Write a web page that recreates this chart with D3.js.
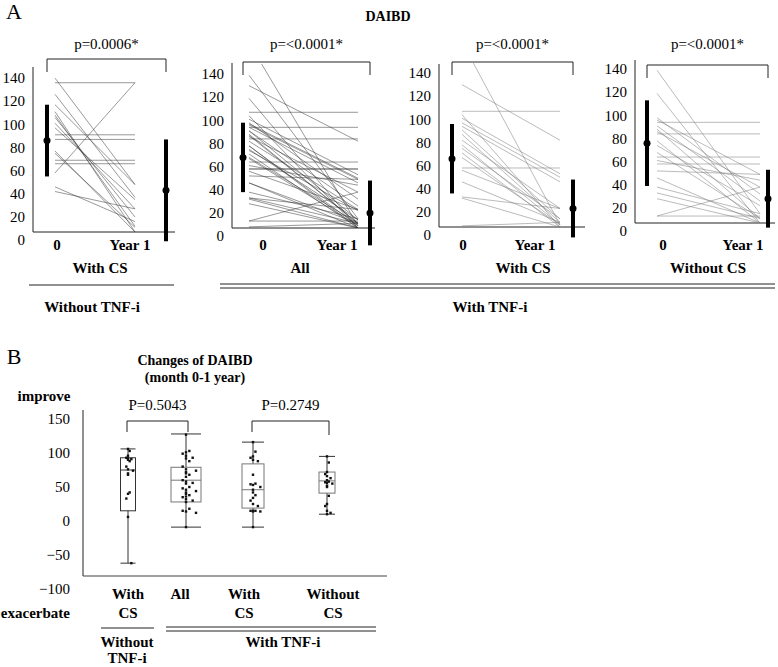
<!DOCTYPE html>
<html><head><meta charset="utf-8">
<script src="https://cdn.jsdelivr.net/npm/d3@7/dist/d3.min.js"></script>
<style>body{margin:0;background:#fff}svg{display:block;font-family:"Liberation Serif","Times New Roman",serif}</style>
</head><body><svg id="c" width="778" height="667"></svg>
<script>
// ---------- Panel A data ----------
const aTicks = [0, 20, 40, 60, 80, 100, 120, 140];
const aTimeLabels = ["0", "Year 1"];
const aPvals = ["p=0.0006*", "p=<0.0001*", "p=<0.0001*", "p=<0.0001*"];
const aGroups = ["With CS", "All", "With   CS", "Without   CS"];
// Without TNF-i, with CS : month 0 / year 1
const noTnfCs0 = [129, 51, 133, 119, 84, 80, 62, 104, 101, 99, 94, 70, 68, 39, 35, 110, 90, 59];
const noTnfCs1 = [129, 129, 41, 30, 84, 80, 62, 0, 5, 13, 20, 0, 4, 9, 20, 41, 28, 59];
// With TNF-i, with CS
const tnfCs0 = [160, 123, 100, 94, 90, 87, 84, 80, 75, 71, 64, 60, 51, 49, 39, 26, 25, 1, 97, 68];
const tnfCs1 = [2, 75, 100, 46, 43, 39, 7, 4, 16, 2, 0, 2, 51, 16, 4, 16, 0, 4, 0, 7];
// With TNF-i, without CS
const tnfNoCs0 = [132, 112, 87, 91, 89, 84, 77, 81, 79, 71, 67, 61, 57, 51, 54, 45, 39, 31, 26, 21, 6, 6];
const tnfNoCs1 = [8, 0, 87, 25, 42, 19, 77, 4, 31, 0, 15, 4, 57, 51, 37, 42, 0, 8, 4, 0, 31, 6];
// With TNF-i, all = with CS + without CS
const tnfAll0 = tnfCs0.concat(tnfNoCs0);
const tnfAll1 = tnfCs1.concat(tnfNoCs1);
const aMeans = [[79, 36], [61, 13], [59, 16], [69, 21]];
const aSD = [[31, 44], [30, 28], [30, 25], [37, 25]];

// ---------- Panel B data ----------
const bTicks = [150, 100, 50, 0, -50, -100];
const bCats = [["With", "CS"], ["All"], ["With", "CS"], ["Without", "CS"]];
const bPvals = ["P=0.5043", "P=0.2749"];
const bMin = [-62, -9, -9, 10];
const bQ1 = [15, 28, 19, 41];
const bMed = [75, 60, 46, 59];
const bQ3 = [93, 79, 84, 72];
const bMax = [106, 128, 116, 95];
const bDots1 = [106, 103, 96, 93, 92, 91, 90, 88, 80, 76, 74, 70, 68, 42, 40, 33, 6, -62];
const bDots2 = [127, 103, 101, 99, 96, 93, 92, 88, 80, 76, 74, 72, 70, 68, 65, 60, 58, 56, 55, 50, 48, 46, 44, 42, 40, 38, 36, 35, 32, 30, 28, 18, 15, 14, 12, -9];
const bDots3 = [116, 102, 95, 93, 90, 88, 68, 55, 54, 53, 50, 46, 42, 38, 34, 30, 25, 22, 15, 15, 15, 14, 14, -9];
const bDots4 = [95, 86, 72, 69, 66, 63, 60, 58, 57, 56, 55, 52, 50, 37, 25, 22, 15, 12, 10];

// ---------- layout ----------
const svg = d3.select("#c");
const SERIF = "'Liberation Serif','Times New Roman',serif";
function txt(x, y, s, o = {}) {
  return svg.append("text").attr("x", x).attr("y", y).text(s)
    .attr("font-size", o.size || 15).attr("font-weight", o.bold ? "bold" : "normal")
    .attr("text-anchor", o.anchor || "middle").attr("dominant-baseline", "central")
    .attr("fill", "#000");
}
function hline(x1, x2, y, w = 1, c = "#222") {
  svg.append("line").attr("x1", x1).attr("x2", x2).attr("y1", y).attr("y2", y)
    .attr("stroke", c).attr("stroke-width", w);
}

txt(14, 11, "A", { size: 22, anchor: "middle" });
txt(388, 16, "DAIBD", { size: 14, bold: true });

const layA = [
  { ax: 33, axisY: 232, top: 67, xEnd: 175, x0: 55, x1: 135, bL: 47, bR: 166, brTop: 59, brBot: 72, lab0: 57, labY: 130, grp: 100, d0: noTnfCs0, d1: noTnfCs1, col: "#333", op: 0.5 },
  { ax: 232, axisY: 228, top: 63, xEnd: 375, x0: 249, x1: 358, bL: 243, bR: 370, brTop: 62, brBot: 75, lab0: 263, labY: 337, grp: 300, d0: tnfAll0, d1: tnfAll1, col: "#333", op: 0.5 },
  { ax: 439, axisY: 227, top: 64, xEnd: 585, x0: 462, x1: 560, bL: 452, bR: 573, brTop: 62, brBot: 75, lab0: 463, labY: 535, grp: 523, d0: tnfCs0, d1: tnfCs1, col: "#777", op: 0.5 },
  { ax: 635, axisY: 223, top: 60, xEnd: 775, x0: 657, x1: 760, bL: 647, bR: 768, brTop: 65, brBot: 78, lab0: 663, labY: 743, grp: 708, d0: tnfNoCs0, d1: tnfNoCs1, col: "#777", op: 0.5 }
];

layA.forEach((L, i) => {
  const y = d3.scaleLinear().domain([0, 140]).range([L.axisY, L.axisY - 162]);
  const x = d3.scaleLinear().domain([0, 1]).range([L.x0, L.x1]);
  const ax = svg.append("g").attr("transform", `translate(${L.ax},0)`)
    .call(d3.axisLeft(y).tickValues(aTicks).tickSize(0).tickPadding(8));
  ax.select(".domain").remove();
  ax.selectAll("text").attr("font-family", SERIF).attr("font-size", 15).attr("fill", "#000").attr("dy", "0.32em")
    .attr("transform", "translate(0,8)");
  svg.append("line").attr("x1", L.ax).attr("x2", L.ax).attr("y1", L.top).attr("y2", L.axisY).attr("stroke", "#222");
  hline(L.ax, L.xEnd, L.axisY, 1, "#222");
  const cid = "clipA" + i;
  svg.append("clipPath").attr("id", cid).append("rect")
    .attr("x", L.ax).attr("y", y(140) - 2).attr("width", L.xEnd - L.ax).attr("height", L.axisY - y(140) + 2);
  const g = svg.append("g").attr("clip-path", `url(#${cid})`);
  g.selectAll("line.p").data(L.d0.map((v, k) => [v, L.d1[k]])).enter().append("line")
    .attr("x1", x(0)).attr("x2", x(1)).attr("y1", d => y(d[0])).attr("y2", d => y(d[1]))
    .attr("stroke", L.col).attr("stroke-opacity", L.op).attr("stroke-width", 1);
  [L.bL, L.bR].forEach((bx, j) => {
    const m = aMeans[i][j], s = aSD[i][j];
    svg.append("line").attr("x1", bx).attr("x2", bx).attr("y1", y(m + s)).attr("y2", y(m - s))
      .attr("stroke", "#000").attr("stroke-width", 4);
    svg.append("circle").attr("cx", bx).attr("cy", y(m)).attr("r", 3.5).attr("fill", "#000");
  });
  svg.append("path").attr("d", `M${L.bL},${L.brBot}V${L.brTop}H${L.bR}V${L.brBot}`)
    .attr("fill", "none").attr("stroke", "#222").attr("stroke-width", 1);
  txt((L.bL + L.bR) / 2, 44, aPvals[i], { size: 15 });
  txt(L.lab0, 245, aTimeLabels[0], { size: 15, bold: true });
  txt(L.labY, 245, aTimeLabels[1], { size: 15, bold: true });
  txt(L.grp, 268, aGroups[i], { size: 15, bold: true });
});
hline(29, 174, 285, 1.2);
hline(220, 775, 284, 1);
hline(220, 775, 288, 1);
txt(92, 307, "Without TNF-i", { size: 15, bold: true });
txt(490, 307, "With TNF-i", { size: 15, bold: true });

// ---------- Panel B ----------
txt(14, 356, "B", { size: 22 });
txt(195, 360, "Changes of  DAIBD", { size: 14, bold: true });
txt(195, 377, "(month 0-1 year)", { size: 14, bold: true });
txt(44, 396, "improve", { size: 15, bold: true });
txt(70, 613, "exacerbate", { size: 15, bold: true, anchor: "end" });

const yB = d3.scaleLinear().domain([-100, 150]).range([589, 419]);
const centers = [128, 186, 253, 327];
const widths = [15, 30, 22, 16];
const xB = d3.scaleOrdinal().domain([0, 1, 2, 3]).range(centers);

const axB = svg.append("g").attr("transform", "translate(78,0)")
  .call(d3.axisLeft(yB).tickValues(bTicks).tickSize(0).tickPadding(8));
axB.select(".domain").remove();
axB.selectAll("text").attr("font-family", SERIF).attr("font-size", 15).attr("fill", "#000");
svg.append("line").attr("x1", 83).attr("x2", 83).attr("y1", 410).attr("y2", 576).attr("stroke", "#222");
hline(83, 387, 576, 1.2, "#444");

const dotsAll = [bDots1, bDots2, bDots3, bDots4];
[0, 1, 2, 3].forEach(i => {
  const cx = xB(i), w = widths[i];
  const st = i === 0 ? "#333" : "#777";
  svg.append("line").attr("x1", cx).attr("x2", cx).attr("y1", yB(bMax[i])).attr("y2", yB(bQ3[i])).attr("stroke", "#333");
  svg.append("line").attr("x1", cx).attr("x2", cx).attr("y1", yB(bQ1[i])).attr("y2", yB(bMin[i])).attr("stroke", "#333");
  hline(cx - w / 2, cx + w / 2, yB(bMax[i]), 1, "#333");
  hline(cx - w / 2, cx + w / 2, yB(bMin[i]), 1, "#333");
  svg.append("rect").attr("x", cx - w / 2).attr("y", yB(bQ3[i])).attr("width", w)
    .attr("height", yB(bQ1[i]) - yB(bQ3[i])).attr("fill", "none").attr("stroke", st);
  hline(cx - w / 2, cx + w / 2, yB(bMed[i]), 1, st);
  const pat = [0, 1, 0, -1, 0, 2, 0, 1, -1, 0, 3, 0];
  svg.selectAll(null).data(dotsAll[i]).enter().append("rect")
    .attr("x", (d, k) => cx + pat[k % pat.length] * w / 9 - 1.2)
    .attr("y", d => yB(d) - 1.2).attr("width", 2.4).attr("height", 2.4).attr("fill", "#111");
  bCats[i].forEach((s, k) => txt(i === 1 ? 180 : (i === 2 ? 244 : (i === 3 ? 333 : cx)), 594 + k * 19, s, { size: 15, bold: true }));
});
[[0, 1, 432], [2, 3, 435]].forEach((b, j) => {
  const a = xB(b[0]) - 1, c = xB(b[1]) + 2;
  svg.append("path").attr("d", `M${a},${432}V421H${c}V${b[2]}`).attr("fill", "none").attr("stroke", "#222");
  txt((a + c) / 2, 405, bPvals[j], { size: 15 });
});
hline(101, 154, 628, 1.2);
hline(166, 376, 627, 1);
hline(166, 376, 631, 1);
txt(127, 642, "Without", { size: 15, bold: true });
txt(127, 658, "TNF-i", { size: 15, bold: true });
txt(283, 642, "With TNF-i", { size: 15, bold: true });
svg.selectAll("text").attr("font-family", SERIF);
</script></body></html>
